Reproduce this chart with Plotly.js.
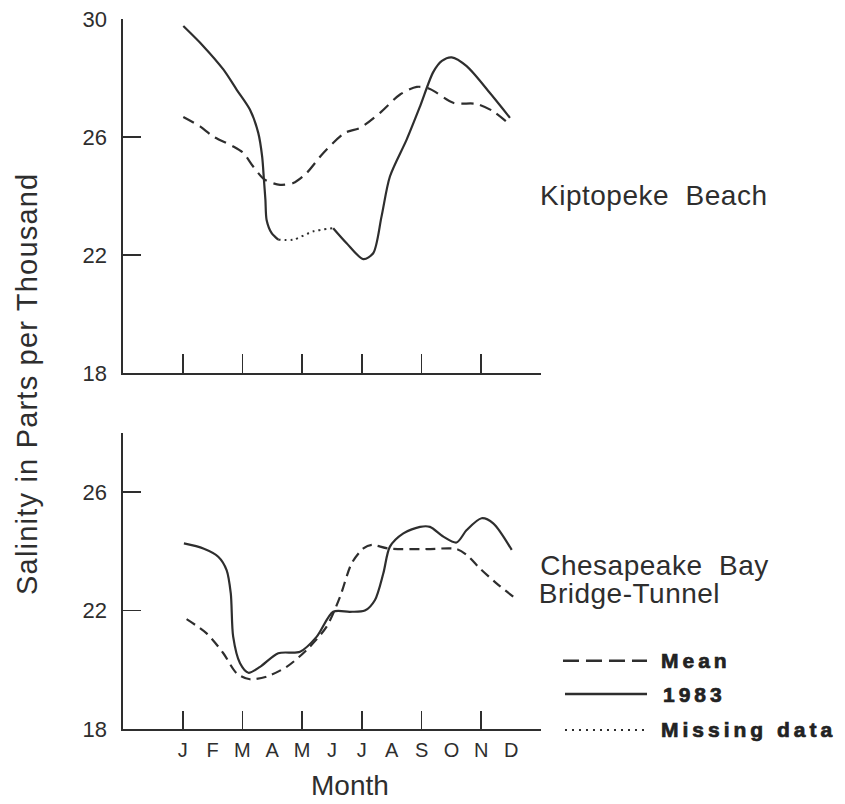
<!DOCTYPE html>
<html>
<head>
<meta charset="utf-8">
<script src="https://cdn.plot.ly/plotly-3.0.1.min.js"></script>
<style>
  html, body { margin: 0; padding: 0; background: #fff; }
  #chart { width: 845px; height: 804px; }
  /* slightly tracked-out captions */
  .annotation[data-index="0"] .annotation-text { letter-spacing: 1.2px; }
  .annotation[data-index="2"] .annotation-text,
  .annotation[data-index="3"] .annotation-text,
  .annotation[data-index="4"] .annotation-text { letter-spacing: 0.5px; }
  /* heavy, spaced-out key labels */
  .annotation[data-index="5"] .annotation-text,
  .annotation[data-index="6"] .annotation-text,
  .annotation[data-index="7"] .annotation-text {
    letter-spacing: 4px; stroke: #222; stroke-width: 0.7px;
  }
</style>
</head>
<body>
<div id="chart"></div>
<script>
// Month axis
const monthPos = [1, 2, 3, 4, 5, 6, 7, 8, 9, 10, 11, 12];
const monthLabels = ['J', 'F', 'M', 'A', 'M', 'J', 'J', 'A', 'S', 'O', 'N', 'D'];
const majorMonths = [1, 3, 5, 7, 9, 11];

// Kiptopeke Beach — long-term mean salinity (ppt)
const kiptMeanX = [1.02, 1.58, 2.02, 2.69, 3.03, 3.36, 3.75, 4.26, 4.70, 5.15, 5.71, 6.43, 6.94, 7.61, 8.28, 8.84, 9.28, 10.06, 10.85, 11.40, 11.96];
const kiptMeanY = [26.68, 26.36, 26.02, 25.68, 25.46, 25.00, 24.55, 24.38, 24.44, 24.78, 25.46, 26.14, 26.31, 26.82, 27.44, 27.70, 27.63, 27.16, 27.12, 26.87, 26.42];

// Kiptopeke Beach — 1983 salinity, gap where no samples were taken
const kipt83X = [1.02, 1.69, 2.36, 2.81, 3.25, 3.53, 3.66, 3.72, 3.77, 3.81, 3.98, 4.20, null, 6.04, 6.49, 7.05, 7.38, 7.66, 7.94, 8.50, 8.95, 9.39, 9.68, 10.01, 10.51, 11.29, 11.96];
const kipt83Y = [29.76, 29.08, 28.29, 27.60, 26.93, 26.14, 25.34, 24.55, 23.87, 23.19, 22.74, 22.52, null, 22.91, 22.40, 21.86, 22.06, 23.31, 24.66, 25.91, 27.04, 28.20, 28.58, 28.70, 28.40, 27.49, 26.65];

// Kiptopeke Beach — 1983 missing-data span
const kiptMissX = [4.20, 4.70, 5.37, 6.04];
const kiptMissY = [22.52, 22.52, 22.80, 22.91];

// Chesapeake Bay Bridge-Tunnel — long-term mean salinity (ppt)
const cbbtMeanX = [1.13, 1.80, 2.36, 2.81, 3.25, 3.81, 4.48, 5.15, 5.82, 6.27, 6.66, 7.05, 7.33, 7.89, 9.17, 10.17, 10.51, 10.95, 11.51, 12.07];
const cbbtMeanY = [21.71, 21.23, 20.56, 19.88, 19.68, 19.77, 20.10, 20.67, 21.46, 22.47, 23.60, 24.10, 24.22, 24.10, 24.08, 24.08, 23.88, 23.43, 22.92, 22.47];

// Chesapeake Bay Bridge-Tunnel — 1983 salinity
const cbbt83X = [1.04, 1.69, 2.19, 2.47, 2.61, 2.69, 2.92, 3.20, 3.59, 4.20, 4.93, 5.49, 6.04, 6.60, 7.10, 7.44, 7.72, 7.94, 8.39, 8.95, 9.28, 9.73, 10.17, 10.51, 11.01, 11.40, 12.02];
const cbbt83Y = [24.27, 24.10, 23.82, 23.37, 22.58, 21.12, 20.22, 19.90, 20.10, 20.56, 20.61, 21.12, 21.96, 21.96, 22.00, 22.36, 23.26, 24.16, 24.61, 24.83, 24.83, 24.50, 24.30, 24.72, 25.12, 24.95, 24.05];

const ink = '#2e2e2e';
const family = '"Liberation Sans", Arial, Helvetica, sans-serif';

function curve(x, y, xa, ya, dash, width) {
  return {
    type: 'scatter', mode: 'lines', x: x, y: y, xaxis: xa, yaxis: ya,
    connectgaps: false, hoverinfo: 'skip',
    line: { color: ink, width: width, dash: dash, shape: 'spline', smoothing: 0.8 }
  };
}

const traces = [
  curve(kiptMeanX, kiptMeanY, 'x', 'y', '12px,7px', 2.2),
  curve(kipt83X, kipt83Y, 'x', 'y', 'solid', 2.2),
  curve(kiptMissX, kiptMissY, 'x', 'y', '2px,4px', 2),
  curve(cbbtMeanX, cbbtMeanY, 'x2', 'y2', '10px,6px', 2.2),
  // drawn on the month-letter axis, which shares the lower panel's range
  curve(cbbt83X, cbbt83Y, 'x3', 'y2', 'solid', 2.2)
];

const axisBase = {
  showgrid: false, zeroline: false, showline: true,
  linecolor: ink, linewidth: 1.6, tickcolor: ink, tickwidth: 1.6,
  fixedrange: true, automargin: false
};

const layout = {
  width: 845, height: 804,
  margin: { l: 123, r: 304, t: 19, b: 75 },
  paper_bgcolor: '#ffffff', plot_bgcolor: '#ffffff',
  showlegend: false,
  font: { family: family, color: ink },
  xaxis: Object.assign({}, axisBase, {
    domain: [0, 1], anchor: 'y', range: [-1, 13],
    tickmode: 'array', tickvals: majorMonths, ticks: 'inside', ticklen: 19,
    showticklabels: false
  }),
  yaxis: Object.assign({}, axisBase, {
    domain: [0.5014, 1], anchor: 'x', range: [18, 30],
    tickmode: 'array', tickvals: [18, 22, 26, 30], ticks: 'inside', ticklen: 18,
    tickfont: { size: 22, family: family, color: ink }, ticklabelstandoff: 10
  }),
  xaxis2: Object.assign({}, axisBase, {
    domain: [0, 1], anchor: 'y2', range: [-1, 13],
    tickmode: 'array', tickvals: majorMonths, ticks: 'inside', ticklen: 18,
    showticklabels: false
  }),
  xaxis3: Object.assign({}, axisBase, {
    overlaying: 'x2', anchor: 'y2', range: [-1, 13], showline: false,
    tickmode: 'array', tickvals: monthPos, ticktext: monthLabels, ticks: '',
    tickfont: { size: 20, family: family, color: ink }, ticklabelstandoff: 7
  }),
  yaxis2: Object.assign({}, axisBase, {
    domain: [0, 0.4169], anchor: 'x2', range: [18, 28],
    tickmode: 'array', tickvals: [18, 22, 26], ticks: 'inside', ticklen: 18,
    tickfont: { size: 22, family: family, color: ink }, ticklabelstandoff: 10
  }),
  annotations: [
    { text: 'Salinity in Parts per Thousand', xref: 'paper', yref: 'paper',
      x: -0.2297, y: 0.486, xanchor: 'center', yanchor: 'middle', textangle: -90,
      showarrow: false, font: { size: 29, family: family, color: ink } },
    { text: 'Month', xref: 'paper', yref: 'paper', x: 0.543, y: -0.0789,
      xanchor: 'center', yanchor: 'middle', showarrow: false,
      font: { size: 28, family: family, color: ink } },
    { text: 'Kiptopeke  Beach', xref: 'paper', yref: 'paper', x: 1.2703, y: 0.752,
      xanchor: 'center', yanchor: 'middle', showarrow: false,
      font: { size: 28, family: family, color: ink } },
    { text: 'Chesapeake  Bay', xref: 'paper', yref: 'paper', x: 1.2727, y: 0.2296,
      xanchor: 'center', yanchor: 'middle', showarrow: false,
      font: { size: 28, family: family, color: ink } },
    { text: 'Bridge-Tunnel', xref: 'paper', yref: 'paper', x: 1.2108, y: 0.1915,
      xanchor: 'center', yanchor: 'middle', showarrow: false,
      font: { size: 28, family: family, color: ink } },
    { text: '<b>Mean</b>', xref: 'paper', yref: 'paper', x: 1.3708, y: 0.0962,
      xanchor: 'center', yanchor: 'middle', showarrow: false,
      font: { size: 21, family: family, color: '#222' } },
    { text: '<b>1983</b>', xref: 'paper', yref: 'paper', x: 1.3672, y: 0.0488,
      xanchor: 'center', yanchor: 'middle', showarrow: false,
      font: { size: 21, family: family, color: '#222' } },
    { text: '<b>Missing data</b>', xref: 'paper', yref: 'paper', x: 1.4988, y: -0.0004,
      xanchor: 'center', yanchor: 'middle', showarrow: false,
      font: { size: 21, family: family, color: '#222' } }
  ],
  shapes: [
    { type: 'line', xref: 'paper', yref: 'paper', x0: 1.0526, x1: 1.2536, y0: 0.0962, y1: 0.0962,
      line: { color: ink, width: 2.4, dash: '16px,7px' } },
    { type: 'line', xref: 'paper', yref: 'paper', x0: 1.0574, x1: 1.2536, y0: 0.0493, y1: 0.0493,
      line: { color: ink, width: 2.4, dash: 'solid' } },
    { type: 'line', xref: 'paper', yref: 'paper', x0: 1.0574, x1: 1.2560, y0: -0.0014, y1: -0.0014,
      line: { color: ink, width: 2, dash: '2px,5px' } }
  ]
};

Plotly.newPlot('chart', traces, layout, { staticPlot: true, displayModeBar: false });
</script>
</body>
</html>
